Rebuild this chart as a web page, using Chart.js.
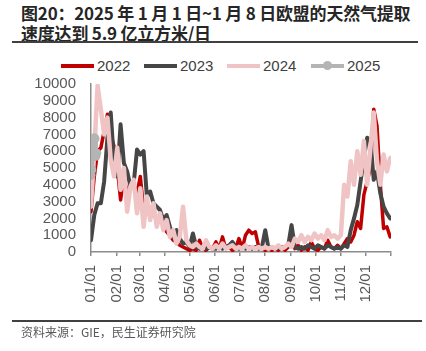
<!DOCTYPE html>
<html><head><meta charset="utf-8">
<script src="https://cdn.jsdelivr.net/npm/chart.js@4.4.1/dist/chart.umd.min.js"></script>
<style>
html,body{margin:0;padding:0;background:#fff;width:426px;height:351px;overflow:hidden;position:relative;font-family:"Liberation Sans",Arial,sans-serif}
#title{position:absolute;left:21px;top:3px;font-family:"Noto Sans CJK SC";font-weight:bold;font-size:17px;line-height:20px;color:#262626;white-space:nowrap;letter-spacing:-0.2px}
#rule1{position:absolute;left:12px;top:41px;width:406px;height:2px;background:#404040}
#rule2{position:absolute;left:12px;top:320px;width:410px;height:2px;background:#404040}
#src{position:absolute;left:21px;top:324px;font-family:"Noto Sans CJK SC";font-size:12px;line-height:16px;color:#595959;white-space:nowrap}
.lg{position:absolute;top:57px;font-size:15px;line-height:17px;color:#404040}
.ln{position:absolute;height:4px;top:64px;width:33px}
.dot{position:absolute;width:9px;height:9px;border-radius:50%;background:#b4b4b4;top:61px}
canvas{position:absolute;left:0;top:0}
</style></head>
<body>
<div id="title">图20：2025 年 1 月 1 日~1 月 8 日欧盟的天然气提取<br>速度达到 5.9 亿立方米/日</div>
<div id="rule1"></div>
<div class="ln" style="left:61px;background:#c00000"></div><div class="lg" style="left:97px">2022</div>
<div class="ln" style="left:144px;background:#464646"></div><div class="lg" style="left:180px">2023</div>
<div class="ln" style="left:227px;background:#f0c4c4"></div><div class="lg" style="left:263px">2024</div>
<div class="ln" style="left:311px;background:#b4b4b4"></div><div class="dot" style="left:323px"></div><div class="lg" style="left:347px">2025</div>
<canvas id="c" width="426" height="351"></canvas>
<div id="rule2"></div>
<div id="src">资料来源：GIE，民生证券研究院</div>
<script>
const monthDays = [0,31,59,90,120,151,181,212,243,273,304,334,365];
const monthLabels = ['01/01','02/01','03/01','04/01','05/01','06/01','07/01','08/01','09/01','10/01','11/01','12/01',''];
const yTicks = [0,1000,2000,3000,4000,5000,6000,7000,8000,9000,10000];

const days = [0,4,8,12,16,20,24,28,32,36,40,44,48,52,56,60,64,68,72,76,80,84,88,92,96,100,104,108,112,116,120,124,128,132,136,140,144,148,152,156,160,164,168,172,176,180,184,188,192,196,200,204,208,212,216,220,224,228,232,236,240,244,248,252,256,260,264,268,272,276,280,284,288,292,296,300,304,308,312,316,320,324,328,332,336,340,344,348,352,356,360,364];

const v2022 = [2400,4500,6000,6200,7200,8200,7000,6300,5000,3100,
 4500,3500,4100,4000,3500,4500,2500,3000,2500,2200,
 2000,2100,1500,1200,1000,700,600,400,300,200,
 100,200,100,700,200,100,300,200,600,200,
 900,200,300,100,200,800,200,1000,1300,1100,
 1200,300,200,100,200,100,200,100,300,100,
 300,700,200,400,100,300,100,600,200,100,
 300,200,700,300,200,400,200,500,800,600,
 1000,1800,1400,3400,4200,5000,8500,7500,4000,1400,
 1500,900];

const v2023 = [700,2200,2900,2900,4200,6800,8300,5300,4500,7600,
 5300,4800,3900,4100,6100,5800,6000,3300,3600,2900,
 2700,2500,1900,2200,1500,900,1300,800,500,600,
 300,1100,300,200,300,200,300,200,200,300,
 200,300,400,600,300,200,300,200,300,200,
 300,200,300,1300,200,300,200,300,200,300,
 400,1600,300,200,300,200,400,300,200,400,
 300,200,400,300,200,300,200,400,300,1300,
 2000,2800,4200,5600,6800,6600,4300,4800,3500,2700,
 2300,2000];

const v2024 = [2700,6000,9900,8500,7000,8000,5500,4500,6200,3700,
 5000,2400,3900,4300,2300,3800,1500,3300,1900,2900,
 1500,2300,1300,1900,900,1300,500,900,2700,700,
 400,300,500,300,200,700,300,200,400,200,
 500,200,300,400,200,300,200,400,200,300,
 200,300,200,300,200,300,200,400,200,300,
 500,300,800,600,1000,600,900,700,1100,800,
 1000,700,1300,900,1000,800,1000,4000,3300,5400,
 4000,6000,4600,6600,4000,6200,8300,5400,4000,5800,
 4800,5600];

const days2025 = [0,1,2,3,4,5,6,7];
const v2025 = [4550,4900,5650,6700,6800,6750,5700,5900];

const pts = (xs, ys) => xs.map((x, i) => ({x: x, y: ys[i]}));

new Chart(document.getElementById('c'), {
  type: 'line',
  data: {
    datasets: [
      {label:'2022', data: pts(days, v2022), borderColor:'#c00000', backgroundColor:'#c00000', borderWidth:3.5, pointRadius:0, order:4},
      {label:'2023', data: pts(days, v2023), borderColor:'#464646', backgroundColor:'#464646', borderWidth:4, pointRadius:0, order:3},
      {label:'2024', data: pts(days, v2024), borderColor:'#f0c4c4', backgroundColor:'#f0c4c4', borderWidth:4.5, pointRadius:0, order:2},
      {label:'2025', data: pts(days2025, v2025), borderColor:'#b4b4b4', backgroundColor:'#b4b4b4', borderWidth:4, pointRadius:4.5, pointBorderWidth:0, order:1}
    ]
  },
  options: {
    responsive:false, animation:false, devicePixelRatio:1,
    layout:{padding:{top:84, right:35, bottom:0, left:0}},
    plugins:{legend:{display:false}, tooltip:{enabled:false}},
    elements:{line:{tension:0, borderJoinStyle:'round', borderCapStyle:'round'}},
    scales:{
      x:{type:'linear', min:0, max:365,
        afterBuildTicks: s => { s.ticks = monthDays.map(v => ({value:v})); },
        afterFit: s => { s.height = 99; },
        grid:{drawOnChartArea:false, drawTicks:true, tickLength:4, color:'#8c8c8c', lineWidth:1.5},
        border:{color:'#8c8c8c', width:1.5},
        ticks:{autoSkip:false, maxRotation:90, minRotation:90, padding:9, color:'#595959',
          font:{family:'"Liberation Sans", Arial, sans-serif', size:15},
          callback:(v, i) => monthLabels[i]}
      },
      y:{min:0, max:10000,
        afterBuildTicks: s => { s.ticks = yTicks.map(v => ({value:v})); },
        afterFit: s => { s.width = 91; },
        grid:{drawOnChartArea:false, drawTicks:false},
        border:{color:'#8c8c8c', width:1.5},
        ticks:{autoSkip:false, padding:15, color:'#595959', font:{family:'"Liberation Sans", Arial, sans-serif', size:15},
          callback: v => String(v)}
      }
    }
  }
});
</script>
</body></html>
